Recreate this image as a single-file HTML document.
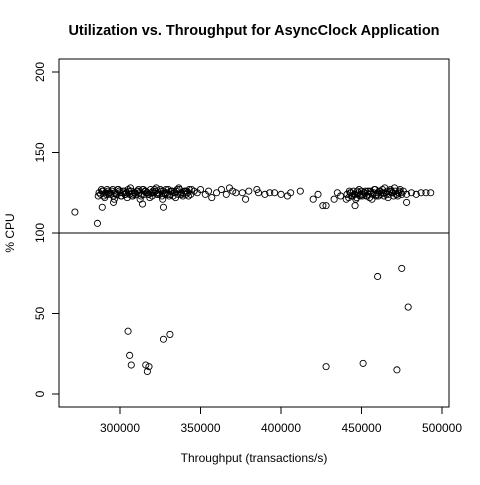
<!DOCTYPE html>
<html><head><meta charset="utf-8"><style>
body{margin:0;background:#fff}
svg text{font-family:"Liberation Sans",sans-serif;fill:#000}
</style></head><body>
<svg id="chart" width="480" height="480" xmlns="http://www.w3.org/2000/svg">
<rect width="480" height="480" fill="#fff"/>
<text x="254" y="35" text-anchor="middle" font-size="14.5" font-weight="bold">Utilization vs. Throughput for AsyncClock Application</text>
<text x="254" y="462" text-anchor="middle" font-size="12">Throughput (transactions/s)</text>
<text transform="translate(14,233) rotate(-90)" text-anchor="middle" font-size="12">% CPU</text>
<rect x="59" y="59" width="390" height="348" fill="none" stroke="#000" stroke-width="1"/>
<g id="axes"></g>
<g id="pts"></g>
</svg>
<script>
const xTicks=[300000,350000,400000,450000,500000];
const yTicks=[0,50,100,150,200];
const xs1=[287,288,289,290,291,292,293,294,295,296,297,298,299,300,301,302,303,304,305,306,307,308,309,310,311,312,313,314,315,316,317,318,319,320,321,322,323,324,325,326,327,328,329,330,331,332,333,334,335,336,337,338,339,340,341,342,343,344];
const ys1=[125,124,126,123,125,127,124,125,126,123,125,124,127,125,123,126,124,125,127,124,126,123,125,124,126,125,123,127,124,126,125,124,127,123,125,126,124,125,127,123,126,124,125,127,124,126,123,125,126,124,127,125,123,126,124,125,127,124];
const xs2=[286.5,288.5,290.5,292.5,294.5,296.5,298.5,300.5,302.5,304.5,306.5,308.5,310.5,312.5,314.5,316.5,318.5,320.5,322.5,324.5,326.5,328.5,330.5,332.5,334.5,336.5,338.5,340.5,342.5,344.5];
const ys2=[123,127,122,126,124,121,127,123,126,122,128,124,126,121,127,125,122,126,128,124,121,127,123,126,122,128,124,126,123,127];
const xs5=[289.5,291.5,293.5,295.5,297.5,299.5,301.5,303.5,305.5,307.5,309.5,311.5,313.5,315.5,317.5,319.5,321.5,323.5,325.5,327.5,329.5,331.5,333.5,335.5,337.5,339.5,341.5];
const ys5=[126,124,125,127,124,126,125,124,126,123,125,127,124,126,124,125,127,124,126,125,124,126,125,127,124,125,126];
const xs3=[441,442,443,444,445,446,447,448,449,450,451,452,453,454,455,456,457,458,459,460,461,462,463,464,465,466,467,468,469,470,471,472,473,474,475,476];
const ys3=[124,122,125,123,126,124,122,125,123,126,124,125,123,126,122,125,124,127,123,125,126,124,127,123,125,126,124,127,125,123,126,124,125,127,124,126];
const xs4=[440.5,442.5,444.5,446.5,448.5,450.5,452.5,454.5,456.5,458.5,460.5,462.5,464.5,466.5,468.5,470.5,472.5,474.5];
const ys4=[121,126,123,121,127,123,126,124,121,127,123,125,128,122,126,128,123,125];
const xs6=[443.5,445.5,447.5,449.5,451.5,453.5,455.5,457.5,459.5,461.5,463.5,465.5,467.5,469.5,471.5,473.5];
const ys6=[125,124,126,124,125,123,126,125,124,126,125,124,126,125,124,126];
const xsSparse=[346,348,350,353,355,357,360,363,366,368,370,372,376,378,380,385,386,390,393,396,400,404,406,412,420,423,435,437,478,481,484,487,490,493];
const ysSparse=[126,125,127,124,126,122,125,127,124,128,126,125,125,121,126,127,125,124,125,125,124,123,125,126,121,124,125,123,124,125,124,125,125,125];
const xsOut=[272,286,289,296,314,327,426,428,433,446,478,305,306,307,316,317,318,327,331,428,451,460,472,475,479];
const ysOut=[113,106,116,119,118,116,117,117,121,117,119,39,24,18,18,14,17,34,37,17,19,73,15,78,54];
const NS='http://www.w3.org/2000/svg';
const X=v=>120+(v-300000)*322/200000;
const Y=v=>394-v*1.61;
const ax=document.getElementById('axes');
function mk(tag,at,parent){const e=document.createElementNS(NS,tag);for(const k in at)e.setAttribute(k,at[k]);parent.appendChild(e);return e;}
let l=mk('line',{x1:X(xTicks[0]),x2:X(xTicks[xTicks.length-1]),y1:407,y2:407,stroke:'#000'},ax);


xTicks.forEach(t=>{
 const tk=mk('line',{x1:X(t),x2:X(t),y1:407,y2:414,stroke:'#000'},ax);
 
 
 const tx=mk('text',{x:X(t),y:432,'text-anchor':'middle','font-size':12},ax);tx.textContent=t;
 
 
});
l=mk('line',{x1:59,x2:59,y1:Y(yTicks[0]),y2:Y(yTicks[yTicks.length-1]),stroke:'#000'},ax);


yTicks.forEach(t=>{
 const tk=mk('line',{x1:52,x2:59,y1:Y(t),y2:Y(t),stroke:'#000'},ax);
 
 
 const tx=mk('text',{transform:`translate(44,${Y(t)}) rotate(-90)`,'text-anchor':'middle','font-size':12},ax);tx.textContent=t;
 
 
});
const ref=mk('line',{x1:59,x2:449,y1:Y(100),y2:Y(100),stroke:'#000'},ax);


const pg=document.getElementById('pts');
function plot(xsK,ys,mult){xsK.forEach((x,i)=>{
 const c=mk('circle',{cx:X(x*mult),cy:Y(ys[i]),r:3.1,fill:'none',stroke:'#000','stroke-width':0.9},pg);
 
 
});}
plot(xs1,ys1,1000);plot(xs2,ys2,1000);plot(xs5,ys5,1000);plot(xs3,ys3,1000);plot(xs4,ys4,1000);plot(xs6,ys6,1000);plot(xsSparse,ysSparse,1000);plot(xsOut,ysOut,1000);
</script>
</body></html>
